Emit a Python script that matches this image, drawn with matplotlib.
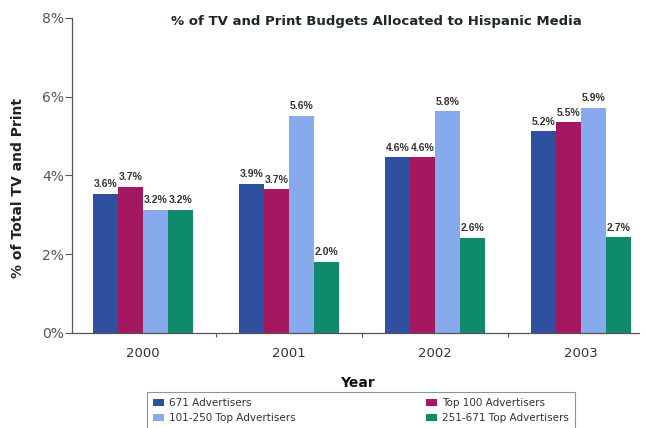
import numpy as np
import matplotlib
matplotlib.use("Agg")
import matplotlib.pyplot as plt
from matplotlib.ticker import FixedLocator

# Data
years = ["2000", "2001", "2002", "2003"]
series_names = ["671 Advertisers", "Top 100 Advertisers",
                "101-250 Top Advertisers", "251-671 Top Advertisers"]
adv_671 = [3.53, 3.79, 4.46, 5.12]
top_100 = [3.72, 3.65, 4.46, 5.35]
top_101_250 = [3.12, 5.52, 5.63, 5.72]
top_251_671 = [3.12, 1.80, 2.41, 2.43]
labels_671 = ["3.6%", "3.9%", "4.6%", "5.2%"]
labels_100 = ["3.7%", "3.7%", "4.6%", "5.5%"]
labels_101 = ["3.2%", "5.6%", "5.8%", "5.9%"]
labels_251 = ["3.2%", "2.0%", "2.6%", "2.7%"]
y_ticks = [0, 2, 4, 6, 8]

colors = ["#2f4f9f", "#a3185e", "#86aaec", "#0f8a6c"]

fig = plt.figure(figsize=(6.46, 4.28), dpi=100)
ax = fig.add_axes([0.1115, 0.222, 0.878, 0.736])

x = np.arange(len(years))
w = 0.171
all_vals = [adv_671, top_100, top_101_250, top_251_671]
all_labels = [labels_671, labels_100, labels_101, labels_251]
bars = []
for i, (vals, labs) in enumerate(zip(all_vals, all_labels)):
    pos = x + (i - 1.5) * w
    b = ax.bar(pos, vals, width=w, color=colors[i], edgecolor="none")
    bars.append(b)
    for px, v, t in zip(pos, vals, labs):
        ax.text(px, v + 0.12, t, ha="center", va="bottom", fontsize=7.5,
                fontweight="bold", color="#333333", family="Liberation Sans")

ax.set_xlim(-0.484, 3.40)
ax.set_ylim(0, 8)
ax.set_yticks(y_ticks)
ax.set_yticklabels([f"{t}%" for t in y_ticks])
ax.tick_params(axis="y", direction="out", length=5, width=0.8, color="#555555",
               labelsize=10, labelcolor="#555555", pad=1)
ax.set_xticks(x)
ax.set_xticklabels(years)
ax.tick_params(axis="x", which="major", length=0, labelsize=9.5,
               labelcolor="#333333", pad=10)
ax.xaxis.set_minor_locator(FixedLocator([0.5, 1.5, 2.5]))
ax.tick_params(axis="x", which="minor", direction="out", length=3,
               width=0.8, color="#555555")
for s in ["top", "right"]:
    ax.spines[s].set_visible(False)
for s in ["left", "bottom"]:
    ax.spines[s].set_color("#555555")
    ax.spines[s].set_linewidth(0.9)

fig.text(0.582, 0.949, "% of TV and Print Budgets Allocated to Hispanic Media",
         ha="center", va="center", fontsize=9.5, fontweight="bold",
         color="#1c2a1f")
fig.text(0.028, 0.56, "% of Total TV and Print", rotation=90, ha="center",
         va="center", fontsize=10, fontweight="bold", color="#222222")
fig.text(0.553, 0.105, "Year", ha="center", va="center", fontsize=10,
         fontweight="bold", color="#111111")

handles = [bars[0], bars[2], bars[1], bars[3]]
names = [series_names[0], series_names[2], series_names[1], series_names[3]]
leg = fig.legend(handles, names, loc="upper left", ncol=2,
                 bbox_to_anchor=(147 / 646, -0.05, 428 / 646, 1.05 - 392 / 428),
                 mode="expand", borderaxespad=0, fontsize=7.5, frameon=True,
                 fancybox=False, handlelength=1.0, handleheight=0.6,
                 handletextpad=0.5, labelspacing=0.45, borderpad=0.6)
leg.get_frame().set_edgecolor("#777777")
leg.get_frame().set_linewidth(0.8)
for t in leg.get_texts():
    t.set_color("#333333")

fig.savefig("out.png", dpi=100)
